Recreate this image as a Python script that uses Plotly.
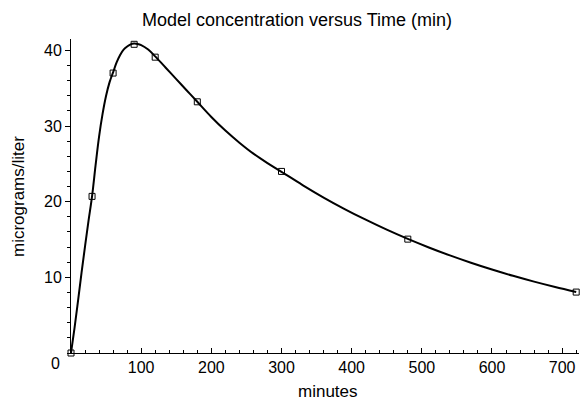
import plotly.graph_objects as go

# Observed data (minutes, micrograms/liter)
data_t = [0, 30, 60, 90, 120, 180, 300, 480, 720]
data_c = [0.0, 20.7, 37.0, 40.8, 39.1, 33.2, 24.0, 15.05, 8.05]

# Model curve
model_t = [0, 5, 10, 15, 20, 25, 30, 35, 40, 45, 50, 55, 60, 65, 70, 75, 80, 85,
           90, 95, 100, 110, 120, 135, 150, 165, 180, 200, 220, 240, 260, 280,
           300, 330, 360, 390, 420, 450, 480, 510, 540, 570, 600, 630, 660, 690, 720]
model_c = [0.0, 3.3, 6.9, 10.6, 14.1, 17.5, 20.7, 24.8, 28.6, 31.6, 34.0, 35.8,
           37.1, 38.4, 39.4, 40.1, 40.5, 40.8, 40.9, 40.85, 40.7, 40.1, 39.2,
           37.7, 36.2, 34.7, 33.2, 31.2, 29.4, 27.8, 26.35, 25.1, 23.95, 22.2,
           20.55, 19.03, 17.62, 16.3, 15.08, 13.95, 12.9, 11.93, 11.03, 10.2,
           9.43, 8.72, 8.06]

x_ticks = [100, 200, 300, 400, 500, 600, 700]
y_ticks = [10, 20, 30, 40]
y_zero_label = "0"

title_text = "Model concentration versus Time (min)"
x_title = "minutes"
y_title = "micrograms/liter"

FONT = "Liberation Sans, Arial, sans-serif"

L, R, T, B = 71, 3, 39, 47
W, H = 582, 400
PW, PH = W - L - R, H - T - B


def px_x(px):
    return (px - L) / PW


def px_y(py):
    return (H - B - py) / PH


fig = go.Figure()
fig.add_trace(go.Scatter(x=model_t, y=model_c, mode="lines",
                         line=dict(color="black", width=2, shape="spline", smoothing=1.0),
                         hoverinfo="skip", showlegend=False))
fig.add_trace(go.Scatter(x=data_t, y=data_c, mode="markers",
                         marker=dict(symbol="square-open", size=6, color="black",
                                     line=dict(width=1, color="black")),
                         cliponaxis=False, showlegend=False))

fig.update_layout(
    width=W, height=H,
    margin=dict(l=L, r=R, t=T, b=B),
    paper_bgcolor="white", plot_bgcolor="white",
    font=dict(family=FONT, size=16, color="black"),
    title=dict(text=title_text, x=297 / W, xref="container", xanchor="center",
               y=1 - 19.5 / H, yref="container", yanchor="middle",
               font=dict(size=18, family=FONT, color="black")),
    xaxis=dict(range=[0, 724], showgrid=False, zeroline=False, automargin=False,
               showline=True, linecolor="black", linewidth=1,
               tickmode="array", tickvals=x_ticks, ticktext=[str(v) for v in x_ticks],
               ticks="inside", ticklen=5, tickcolor="black",
               minor=dict(ticks="inside", ticklen=3, dtick=20, tick0=0, tickcolor="black"),
               tickfont=dict(size=16)),
    yaxis=dict(range=[0, 41.5], showgrid=False, zeroline=False, automargin=False,
               showline=True, linecolor="black", linewidth=1,
               tickmode="array", tickvals=y_ticks, ticktext=[str(v) for v in y_ticks],
               ticks="outside", ticklen=5, tickcolor="black",
               minor=dict(ticks="outside", ticklen=3, dtick=2, tick0=0, tickcolor="black"),
               tickfont=dict(size=16)),
)

fig.add_annotation(x=0, y=0, xref="paper", yref="y", text=y_zero_label,
                   showarrow=False, xanchor="right", yanchor="middle",
                   xshift=-9, yshift=-10, font=dict(size=16, family=FONT, color="black"))
fig.add_annotation(x=px_x(328), y=px_y(391), xref="paper", yref="paper",
                   text=x_title, showarrow=False, xanchor="center", yanchor="middle",
                   font=dict(size=17, family=FONT, color="black"))
fig.add_annotation(x=px_x(18), y=px_y(197), xref="paper", yref="paper",
                   text=y_title, textangle=-90, showarrow=False,
                   xanchor="center", yanchor="middle",
                   font=dict(size=17, family=FONT, color="black"))

fig.write_html("out.html", config={"displayModeBar": False},
               post_script="document.body.style.margin='0px';document.body.style.padding='0px';")
